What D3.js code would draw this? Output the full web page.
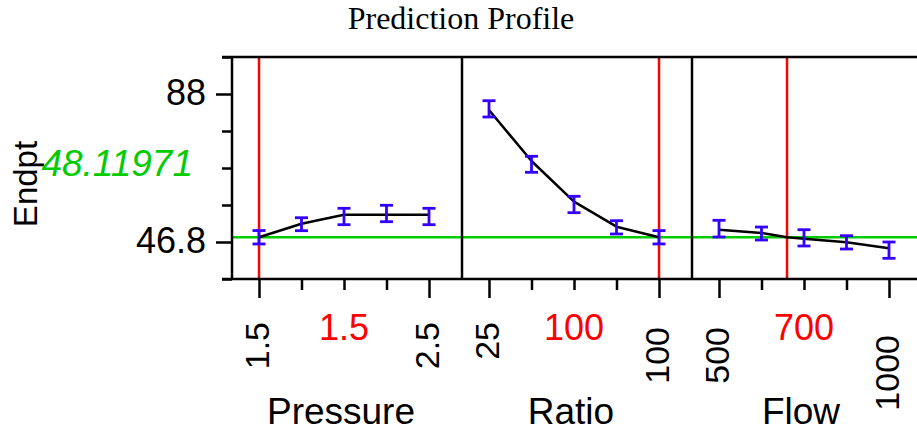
<!DOCTYPE html>
<html>
<head>
<meta charset="utf-8">
<script src="https://cdn.jsdelivr.net/npm/d3@7"></script>
<style>
  html, body { margin: 0; padding: 0; background: #fff; }
  svg { display: block; }
  text { font-family: "Liberation Sans", Arial, sans-serif; }
</style>
</head>
<body>
<svg id="chart" width="917" height="436"></svg>
<script>
// ---- Response ----
const responseName = "Endpt";
const predicted = 48.11971;
const predictedLabel = "48.11971";
const yDomain = [36.5, 98.3];
const yTicksLabeled = [46.8, 88];
const yTicksMinor = [36.5, 57.1, 67.4, 77.7, 98.3];

// ---- Factors ----
const factors = ["Pressure", "Ratio", "Flow"];
const currentSettings = [1.5, 100, 700];
const currentLabels = ["1.5", "100", "700"];
const endTickLabels = [["1.5", "2.5"], ["25", "100"], ["500", "1000"]];

const pressureLevels = [1.5, 1.75, 2.0, 2.25, 2.5];
const pressureFit = [48.12, 51.89, 54.40, 54.40, 54.40];
const pressureLow = [46.25, 49.95, 51.62, 52.45, 51.62];
const pressureHigh = [49.99, 53.56, 56.18, 57.02, 56.18];

const ratioLevels = [25, 43.75, 62.5, 81.25, 100];
const ratioFit = [83.55, 69.35, 58.02, 51.06, 48.12];
const ratioLow = [81.60, 66.20, 54.96, 49.03, 46.26];
const ratioHigh = [86.13, 70.66, 59.52, 52.73, 49.98];

const flowLevels = [500, 625, 750, 875, 1000];
const flowFit = [50.22, 49.30, 47.72, 46.72, 45.05];
const flowLow = [48.19, 47.36, 45.69, 44.85, 42.26];
const flowHigh = [52.84, 50.97, 50.22, 48.55, 46.80];

const levels = [pressureLevels, ratioLevels, flowLevels];
const fits = [pressureFit, ratioFit, flowFit];
const lows = [pressureLow, ratioLow, flowLow];
const highs = [pressureHigh, ratioHigh, flowHigh];

// ---- Layout ----
const W = 917, H = 436;
const plotTop = 57, plotBottom = 279;
const plotLeft = 232, panelW = 230;
const inset = 27, span = 170;
// top of each rotated end label (where the string ends)
const endLabelTop = [[322, 322], [322, 327], [327, 335]];

const BLUE = "#3300ff", RED = "#ff0000", GREEN = "#00cc00";

const svg = d3.select("#chart");
svg.append("rect").attr("width", W).attr("height", H).attr("fill", "#fff");

const y = d3.scaleLinear().domain(yDomain).range([plotBottom, plotTop]);

// title
svg.append("text")
  .attr("x", 461).attr("y", 29)
  .attr("text-anchor", "middle")
  .style("font-family", "'Liberation Serif', 'Times New Roman', serif")
  .style("font-size", "32px")
  .text("Prediction Profile");

// response name
svg.append("text")
  .attr("transform", `translate(37,184) rotate(-90)`)
  .attr("text-anchor", "middle")
  .style("font-size", "33px")
  .text(responseName);

// current predicted value
svg.append("text")
  .attr("x", 193).attr("y", 176)
  .attr("text-anchor", "end")
  .style("font-size", "37px")
  .style("font-style", "italic")
  .attr("fill", GREEN)
  .text(predictedLabel);

// y axis: labelled and minor ticks
const yAxisG = svg.append("g").attr("transform", `translate(${plotLeft},0)`);
yAxisG.append("g")
  .call(d3.axisLeft(y).tickValues(yTicksMinor).tickSize(10).tickSizeOuter(0).tickFormat(""))
  .call(g => g.select(".domain").remove());
yAxisG.append("g")
  .call(d3.axisLeft(y).tickValues(yTicksLabeled).tickSize(16).tickSizeOuter(0).tickPadding(10)
        .tickFormat(d3.format("")))
  .call(g => g.select(".domain").remove())
  .call(g => g.selectAll("text").style("font-size", "36px").attr("dy", "0.29em")
        .style("font-family", "'Liberation Sans', Arial, sans-serif").attr("fill", "#000"));
yAxisG.selectAll("line").attr("stroke", "#000").attr("stroke-width", 2.5);

// green line at the current prediction
svg.append("line")
  .attr("x1", plotLeft).attr("x2", W)
  .attr("y1", y(predicted)).attr("y2", y(predicted))
  .attr("stroke", GREEN).attr("stroke-width", 2.5);

factors.forEach((name, i) => {
  const px = plotLeft + i * panelW;
  const lv = levels[i];
  const x = d3.scaleLinear().domain([lv[0], lv[lv.length - 1]]).range([px + inset, px + inset + span]);
  const g = svg.append("g");

  // bottom ticks
  const axG = g.append("g").attr("transform", `translate(0,${plotBottom})`);
  axG.append("g")
    .call(d3.axisBottom(x).tickValues(lv.slice(1, -1)).tickSize(11).tickSizeOuter(0).tickFormat(""))
    .call(a => a.select(".domain").remove());
  axG.append("g")
    .call(d3.axisBottom(x).tickValues([lv[0], lv[lv.length - 1]]).tickSize(19).tickSizeOuter(0).tickFormat(""))
    .call(a => a.select(".domain").remove());
  axG.selectAll("line").attr("stroke", "#000").attr("stroke-width", 2.5);

  // rotated end labels
  [lv[0], lv[lv.length - 1]].forEach((v, k) => {
    g.append("text")
      .attr("transform", `translate(${x(v) + 10},${endLabelTop[i][k]}) rotate(-90)`)
      .attr("text-anchor", "end")
      .style("font-size", "34px")
      .text(endTickLabels[i][k]);
  });

  const mid = x((lv[0] + lv[lv.length - 1]) / 2);
  // current setting label
  g.append("text")
    .attr("x", mid).attr("y", 340)
    .attr("text-anchor", "middle")
    .style("font-size", "36px")
    .attr("fill", RED)
    .text(currentLabels[i]);
  // factor name
  g.append("text")
    .attr("x", mid - 3).attr("y", 424)
    .attr("text-anchor", "middle")
    .style("font-size", "37px")
    .text(name);

  // current setting line
  g.append("line")
    .attr("x1", x(currentSettings[i])).attr("x2", x(currentSettings[i]))
    .attr("y1", plotTop).attr("y2", plotBottom)
    .attr("stroke", RED).attr("stroke-width", 2.5);

  // profile trace through the levels and the current setting
  const pts = lv.map((v, k) => [v, fits[i][k]]);
  if (!lv.includes(currentSettings[i])) pts.push([currentSettings[i], predicted]);
  pts.sort((a, b) => a[0] - b[0]);
  g.append("path")
    .attr("d", d3.line().x(d => x(d[0])).y(d => y(d[1]))(pts))
    .attr("fill", "none").attr("stroke", "#000").attr("stroke-width", 2.5)
    .attr("stroke-linejoin", "round");

  // interval bars
  const bars = g.append("g").attr("stroke", BLUE).attr("stroke-width", 2.8);
  lv.forEach((v, k) => {
    const cx = x(v), y0 = y(lows[i][k]), y1 = y(highs[i][k]);
    bars.append("line").attr("x1", cx).attr("x2", cx).attr("y1", y0).attr("y2", y1);
    bars.append("line").attr("x1", cx - 6.5).attr("x2", cx + 6.5).attr("y1", y0).attr("y2", y0);
    bars.append("line").attr("x1", cx - 6.5).attr("x2", cx + 6.5).attr("y1", y1).attr("y2", y1);
  });

  // panel left border
  svg.append("line")
    .attr("x1", px).attr("x2", px).attr("y1", plotTop).attr("y2", plotBottom)
    .attr("stroke", "#000").attr("stroke-width", 2.5);
});

// top and bottom frame
[plotTop, plotBottom].forEach(yy => {
  svg.append("line")
    .attr("x1", plotLeft - 10).attr("x2", W)
    .attr("y1", yy).attr("y2", yy)
    .attr("stroke", "#000").attr("stroke-width", 2.5);
});
</script>
</body>
</html>
